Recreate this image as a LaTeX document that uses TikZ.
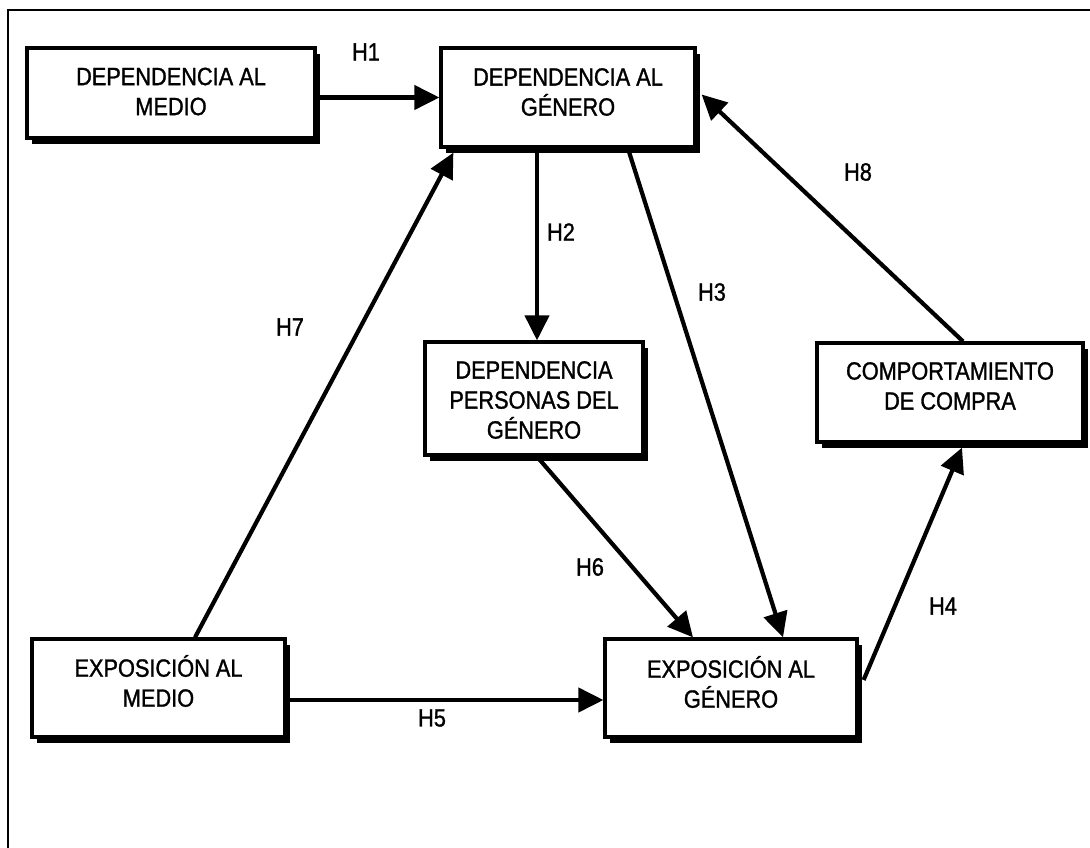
\documentclass[tikz,border=0pt]{standalone}
\usepackage{fontspec}
\setmainfont{Liberation Sans}[FakeStretch=0.87,FakeBold=1.2]
\usetikzlibrary{arrows.meta,shadows,calc}
\begin{document}
\begin{tikzpicture}[x=1pt,y=-1pt,
  box/.style={draw, line width=3.2pt, fill=white, inner sep=0pt,
    drop shadow={shadow xshift=5pt,shadow yshift=-6pt,fill=black,opacity=1}},
  boxtext/.style={align=center, font=\fontsize{25}{30}\selectfont, inner sep=0pt},
  hlabel/.style={font=\fontsize{25}{30}\selectfont, inner sep=0pt},
  arr/.style={line width=4.2pt, -{Triangle[length=25pt,width=24pt]}}
]
\useasboundingbox (0,0) rectangle (1090,848);
% outer frame
\draw[line width=2.5pt] (1090,10) -- (8,10) -- (8,848);

% boxes
\node[box, minimum width=288pt, minimum height=90pt] (dam) at (171,93) {};
\node[box, minimum width=254pt, minimum height=99pt] (dag) at (568,97.5) {};
\node[box, minimum width=218pt, minimum height=113pt] (dpg) at (534,398.5) {};
\node[box, minimum width=266pt, minimum height=99pt] (cdc) at (950,392.5) {};
\node[box, minimum width=252pt, minimum height=98pt] (eag) at (731,688) {};
\node[box, minimum width=253pt, minimum height=98pt] (eam) at (158.5,688) {};

% box texts
\node[boxtext] (damt) at (171,91.5) {DEPENDENCIA AL\\MEDIO};
\node[boxtext] (dagt) at (568,92) {DEPENDENCIA AL\\GÉNERO};
\node[boxtext] (dpgt) at (534,400) {DEPENDENCIA\\PERSONAS DEL\\GÉNERO};
\node[boxtext] (cdct) at (950,386) {COMPORTAMIENTO\\DE COMPRA};
\node[boxtext] (eagt) at (731,682) {EXPOSICIÓN AL\\GÉNERO};
\node[boxtext] (eamt) at (158.5,681) {EXPOSICIÓN AL\\MEDIO};

% connector end points
\coordinate (h2a) at ($(dag.south)+(-31,0)$);
\coordinate (h2b) at (h2a |- dpg.north);

% connectors
\draw[arr] (dam.east |- dag.west) -- (dag.west);
\draw[arr] (h2a) -- (h2b);
\draw[arr] ($(dag.south)+(60,0)$) -- ($(eag.north)+(52,0)$);
\draw[arr] ($(eag.east)+(5,-8)$) -- ($(cdc.south)+(12,4)$);
\draw[arr] ($(eam.east)+(0,12)$) -- ($(eag.west)+(0,12)$);
\draw[arr] ($(dpg.south)+(3,0)$) -- ($(eag.north)+(-38,0)$);
\draw[arr] ($(eam.north)+(36.5,0)$) -- ($(dag.south west)+(14,4)$);
\draw[arr] ($(cdc.north)+(13,0)$) -- ($(dag.east)+(5,-3)$);

% hypothesis labels
\node[hlabel] (h1) at (366,52) {H1};
\node[hlabel] (h2) at (561,232) {H2};
\node[hlabel] (h3) at (712,292) {H3};
\node[hlabel] (h4) at (943,606) {H4};
\node[hlabel] (h5) at (432,718) {H5};
\node[hlabel] (h6) at (590,567) {H6};
\node[hlabel] (h7) at (290,327) {H7};
\node[hlabel] (h8) at (858,172) {H8};
\end{tikzpicture}
\end{document}
